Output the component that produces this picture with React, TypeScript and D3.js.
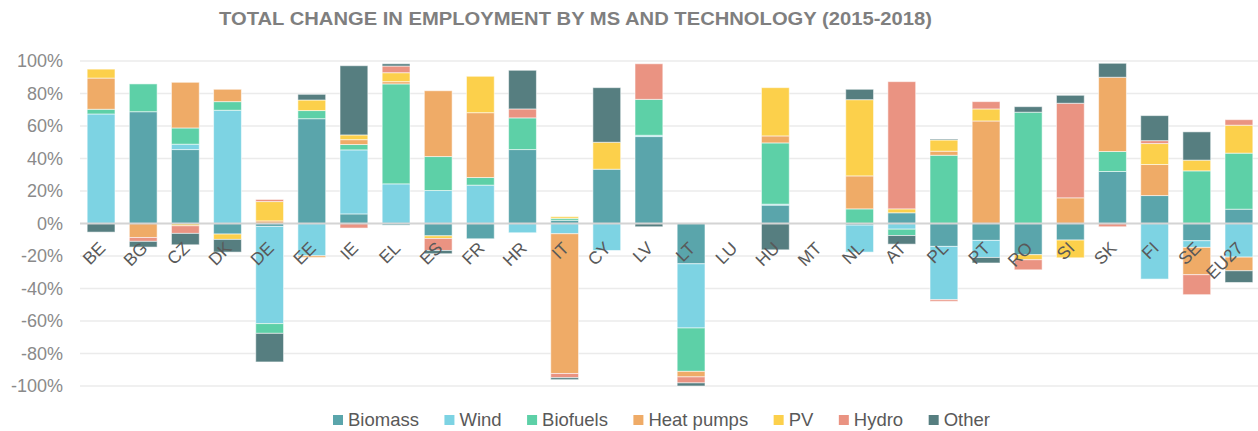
import React from "react";
import * as d3 from "d3";

const categories = ["BE","BG","CZ","DK","DE","EE","IE","EL","ES","FR","HR","IT","CY","LV","LT","LU","HU","MT","NL","AT","PL","PT","RO","SI","SK","FI","SE","EU27"];

const seriesNames = ["Biomass", "Wind", "Biofuels", "Heat pumps", "PV", "Hydro", "Other"];
const seriesColors = ["#5aa5ab", "#7dd3e3", "#5dd0a7", "#efab67", "#fcd04b", "#ea9382", "#567e80"];

const biomass   = [0, 68.8, 45.5, -6.5, -1.8, 64.5, 5.9, -1, -7.6, -9.4, 45.5, 2, 33.4, 53.5, -24.8, 0, 11.3, 0, -1, 6.6, -14.1, -10.4, -19.2, -10.2, 32, 17.2, -10.6, 8.8];
const wind      = [67.4, 0, 3.3, 69.7, -59.8, -19.9, 39.4, 24.4, 20.3, 23.6, -5.7, -6.3, -16.6, 0.8, -39.5, 0, 0.6, 0, -16.6, -3.5, -32.8, -10.5, 0, 0, 0, -34.2, -4.1, -20.7];
const biofuels  = [2.9, 17.1, 10, 5.3, -6, 5, 3.3, 61.5, 20.9, 4.7, 19.5, 1.2, 0, 22.1, -26.7, 0, 37.7, 0, 9, -3.9, 42, 0, 68.5, 0, 12.3, 0, 32.4, 34.5];
const heatPumps = [19.2, -8.6, 28.1, 7.6, 1.6, -1, 3, 1.4, 40.5, 39.9, 0, -86, 0, 0, -3.4, 0, 4.3, 0, 20.3, 0, 2.5, 63.1, 0, 15.8, 45.7, 19.1, -16.8, -8.4];
const pv        = [5.5, 0, -1.4, -3.3, 11.9, 6.5, 2.9, 5.5, -1.6, 22.4, 0, 1, 16.6, 0, 0, 0, 29.7, 0, 46.9, 2.4, 6.9, 7.4, -3.1, -10.9, 0, 12.9, 6.6, 17.2];
const hydro     = [0, -2.4, -4.7, 0, 1.3, 0, -2.8, 4.1, -7.4, 0, 5.5, -2.6, 0, 21.9, -3.7, 0, 0, 0, 0, 78.3, -1, 4.5, -6.2, 58.2, -2, 1.8, -12.3, 3.4];
const other     = [-5.3, -3.5, -7, -7.8, -17.6, 3.5, 42.6, 1.4, -2, 0, 23.8, -1.2, 33.6, -2, -1.9, 0, -16.2, 0, 6.4, -5.3, 0.6, -3.4, 3.4, 4.9, 8.6, 15.4, 17.4, -7.2];

const yTicks = [-100, -80, -60, -40, -20, 0, 20, 40, 60, 80, 100];
const title = "TOTAL CHANGE IN EMPLOYMENT BY MS AND TECHNOLOGY (2015-2018)";

const W = 1258, H = 431;
const FONT = "'Liberation Sans', Arial, sans-serif";

function measure(text: string, font: string): number {
  const c = document.createElement("canvas");
  const ctx = c.getContext("2d")!;
  ctx.font = font;
  return ctx.measureText(text).width;
}

export default function App() {
  const allSeries = [biomass, wind, biofuels, heatPumps, pv, hydro, other];
  const rows = categories.map((c, i) => {
    const r: any = { cat: c };
    seriesNames.forEach((s, k) => (r[s] = allSeries[k][i]));
    return r;
  });
  const stack = d3.stack<any>().keys(seriesNames).offset(d3.stackOffsetDiverging);
  const layers = stack(rows);

  const x = d3.scaleBand().domain(categories).range([80, 1260]).paddingInner(0.34).paddingOuter(0.17);
  const y = d3.scaleLinear().domain([-100, 100]).range([386, 61]);

  const legendFontSize = 18.5;
  const legendFont = `${legendFontSize}px ${FONT}`;
  const items = seriesNames.map((s) => ({ s, w: measure(s, legendFont) }));
  const sq = 10, gapSq = 5, gapItem = 25.5;
  let lx = 333;
  const legendPos = items.map((it) => {
    const p = lx;
    lx += sq + gapSq + it.w + gapItem;
    return p;
  });

  return (
    <svg width={W} height={H} style={{ position: "absolute", left: 0, top: 0, background: "#fff" }} fontFamily={FONT}>
      <text x={219} y={25} fontSize={18} fontWeight="bold" fill="#7f7f7f" textLength={713} lengthAdjust="spacingAndGlyphs"
        fontFamily="'Liberation Sans Narrow', 'Liberation Sans', Arial, sans-serif">{title}</text>
      {yTicks.map((t) => (
        <g key={t}>
          {t !== 0 && <line x1={80} x2={1258} y1={y(t)} y2={y(t)} stroke="#ebebeb" strokeWidth={1.5} />}
          <text x={63} y={y(t)} dy="0.35em" textAnchor="end" fontSize={18} fill="#8a8a8a">{`${t}%`}</text>
        </g>
      ))}
      {layers.map((layer, k) => (
        <g key={layer.key} fill={seriesColors[k]}>
          {layer.map((d, i) => {
            const y0 = y(d[0]), y1 = y(d[1]);
            const h = Math.abs(y0 - y1);
            if (h < 0.01) return null;
            return (
              <rect key={i} x={x(categories[i])!} width={x.bandwidth()} y={Math.min(y0, y1)} height={h}
                stroke="#ffffff" strokeOpacity={0.55} strokeWidth={1} />
            );
          })}
        </g>
      ))}
      <line x1={80} x2={1258} y1={y(0)} y2={y(0)} stroke="#d4d4d4" strokeWidth={2} />
      {categories.map((c) => (
        <text key={c} transform={`translate(${x(c)! + x.bandwidth() / 2 + 1},245) rotate(-45)`} textAnchor="end" dy="0.35em" fontSize={17.5} fill="#595959">{c}</text>
      ))}
      {items.map((it, i) => (
        <g key={it.s}>
          <rect x={legendPos[i]} y={415} width={sq} height={sq} fill={seriesColors[i]} />
          <text x={legendPos[i] + sq + gapSq} y={420} dy="0.35em" fontSize={legendFontSize} fill="#595959">{it.s}</text>
        </g>
      ))}
    </svg>
  );
}
